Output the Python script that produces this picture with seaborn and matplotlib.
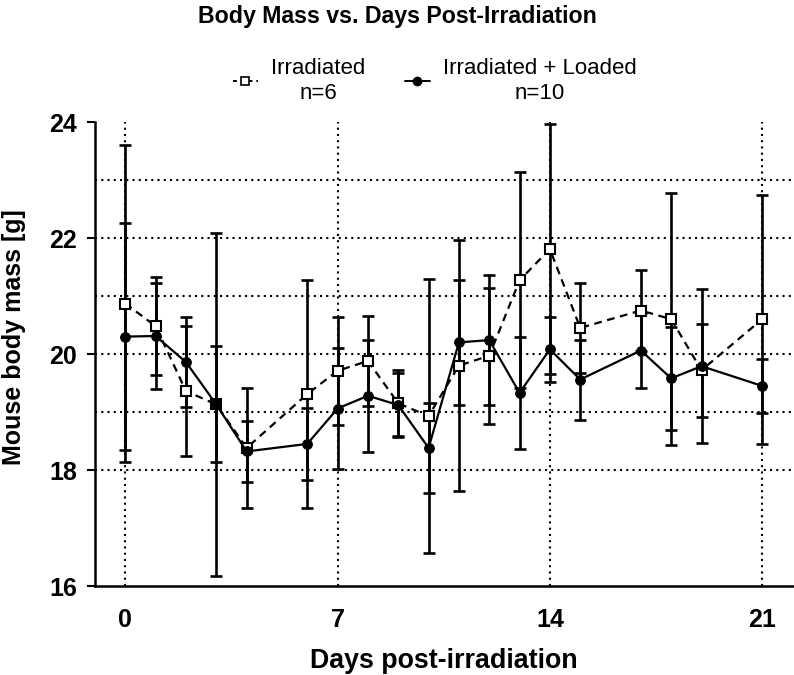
import numpy as np
import pandas as pd
import matplotlib.pyplot as plt
import seaborn as sns
from matplotlib.lines import Line2D

# -----------------------------------------------------------
# DATA

days = [0, 1, 2, 3, 4, 6, 7, 8, 9, 10, 11, 12, 13, 14, 15, 17, 18, 19, 21]

irr_mean = [20.87, 20.48, 19.36, 19.13, 18.38, 19.31, 19.71, 19.88, 19.15, 18.93,
            19.80, 19.97, 21.27, 21.81, 20.45, 20.75, 20.60, 19.72, 20.60]
irr_sd = [2.73, 0.84, 1.12, 2.96, 1.03, 1.97, 0.93, 0.78, 0.57, 2.36,
          2.17, 1.17, 1.86, 2.16, 0.77, 0.69, 2.17, 0.80, 2.15]

load_mean = [20.30, 20.31, 19.86, 19.13, 18.32, 18.45, 19.06, 19.28, 19.12, 18.38,
             20.20, 20.24, 19.33, 20.08, 19.56, 20.06, 19.58, 19.79, 19.45]
load_sd = [1.96, 0.92, 0.78, 1.00, 0.53, 0.62, 1.05, 0.97, 0.55, 0.77,
           1.08, 1.12, 0.96, 0.56, 0.69, 0.64, 0.89, 1.33, 0.46]

group_labels = ["Irradiated\nn=6", "Irradiated + Loaded\nn=10"]
x_ticks = [0, 7, 14, 21]
y_ticks = [16, 18, 20, 22, 24]
h_grid = [18, 19, 20, 21, 22, 23]

df = pd.DataFrame({
    "day": days * 2,
    "mass": irr_mean + load_mean,
    "sd": irr_sd + load_sd,
    "group": ["irr"] * len(days) + ["load"] * len(days),
})

# -----------------------------------------------------------
# PLOT

sns.set_style("white")
plt.rcParams["font.family"] = ["Liberation Sans", "DejaVu Sans"]
for k in ["text.color", "axes.labelcolor", "xtick.color", "ytick.color", "axes.edgecolor"]:
    plt.rcParams[k] = "black"

fig = plt.figure(figsize=(7.94, 6.75), dpi=100)
ax = fig.add_axes([95 / 794, 1 - 586 / 675, 699 / 794, 464 / 675])

dot = (0, (1, 2.0))
for v in h_grid:
    ax.axhline(v, color="black", lw=1.5, ls=dot, zorder=0)
for v in x_ticks:
    ax.axvline(v, color="black", lw=1.5, ls=dot, zorder=0)

irr = df[df.group == "irr"]
load = df[df.group == "load"]

ax.errorbar(irr.day, irr.mass, yerr=irr.sd, fmt="none", ecolor="black",
            elinewidth=1.9, capsize=4.5, capthick=1.9, zorder=2)
ax.errorbar(load.day, load.mass, yerr=load.sd, fmt="none", ecolor="black",
            elinewidth=1.9, capsize=4.5, capthick=1.9, zorder=2)

sns.lineplot(data=irr, x="day", y="mass", ax=ax, color="black", lw=1.6,
             linestyle=(0, (3.5, 2.5)), marker="s", markersize=7,
             markerfacecolor="white", markeredgecolor="black", markeredgewidth=1.5,
             zorder=3)
sns.lineplot(data=load, x="day", y="mass", ax=ax, color="black", lw=1.6,
             marker="o", markersize=7, markeredgecolor="black", zorder=4)

ax.set_xlim(-1, 22.05)
ax.set_ylim(16, 24)
ax.set_xticks(x_ticks)
ax.set_yticks(y_ticks)
ax.tick_params(axis="y", length=6, width=1.5, direction="out", pad=7, left=True)
ax.tick_params(axis="x", length=0, pad=16)
for lab in ax.get_xticklabels() + ax.get_yticklabels():
    lab.set_fontsize(18)
    lab.set_fontweight("bold")

sns.despine(ax=ax)
for s in ["left", "bottom"]:
    ax.spines[s].set_linewidth(1.8)

ax.set_xlabel("")
ax.set_ylabel("")
fig.text(444 / 794, 1 - 661 / 675, "Days post-irradiation", ha="center", va="center",
         fontsize=19.3, fontweight="bold")
fig.text(14 / 794, 1 - 337 / 675, "Mouse body mass [g]", ha="center", va="center",
         rotation=90, fontsize=18, fontweight="bold")
fig.text(0.5, 1 - 17 / 675, "Body Mass vs. Days Post-Irradiation", ha="center",
         va="center", fontsize=16.7, fontweight="bold")

handles = [
    Line2D([], [], color="black", lw=1.4, linestyle=(0, (2, 2)), marker="s",
           markersize=6, markerfacecolor="white", markeredgewidth=1.2),
    Line2D([], [], color="black", lw=1.4, marker="o", markersize=6),
]
leg = fig.legend(handles, group_labels, ncol=2, loc="center", frameon=False,
                 bbox_to_anchor=(435 / 794, 1 - 81 / 675), fontsize=16,
                 handlelength=1.1, handletextpad=0.6, columnspacing=1.8,
                 labelspacing=0.2)
for t in leg.get_texts():
    t.set_multialignment("center")

fig.savefig("out.png", dpi=100)
